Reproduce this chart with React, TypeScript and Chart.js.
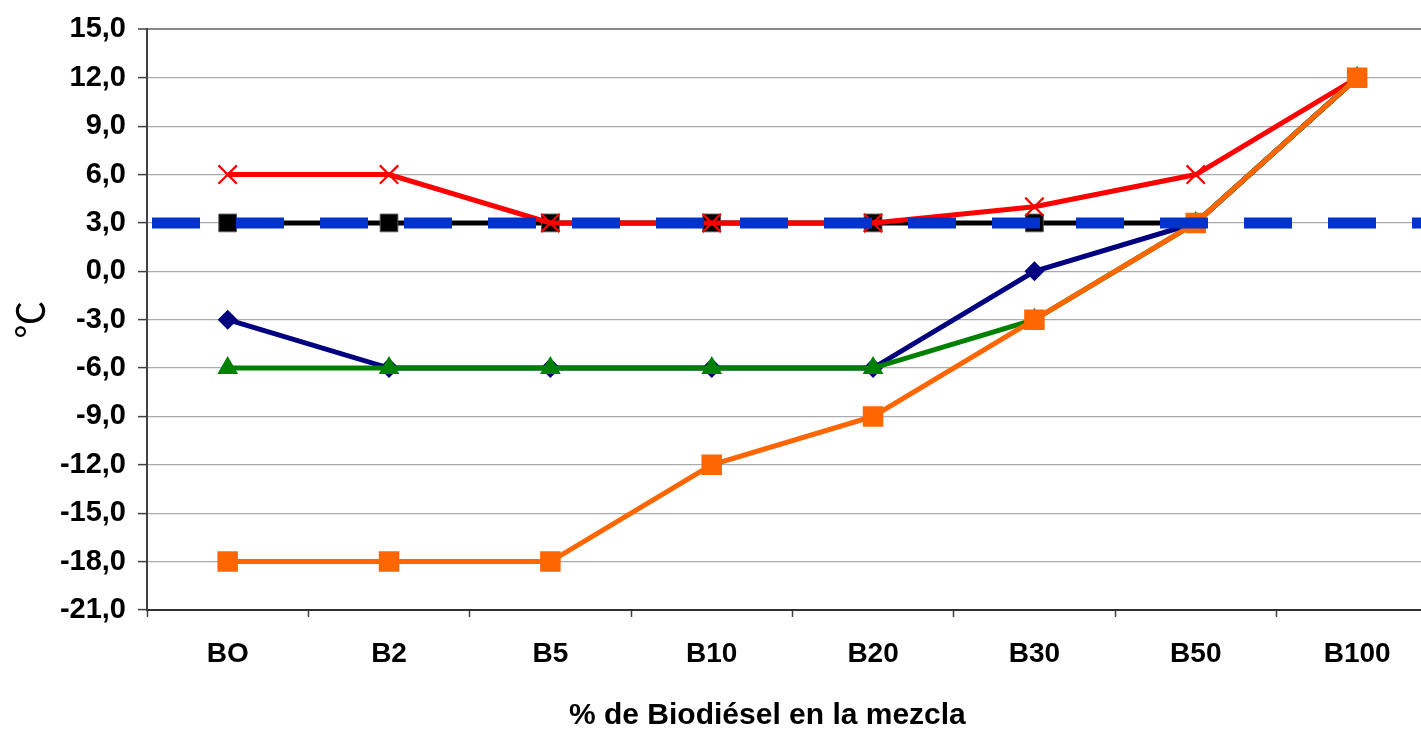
import React, { useEffect, useRef } from 'react';
import { Chart, registerables } from 'chart.js';

Chart.register(...registerables);

// ---- data ----
const categories = ['BO', 'B2', 'B5', 'B10', 'B20', 'B30', 'B50', 'B100'];
const blackSeries = [3, 3, 3, 3, 3, 3, 3, 12];
const redSeries = [6, 6, 3, 3, 3, 4, 6, 12];
const navySeries = [-3, -6, -6, -6, -6, 0, 3, 12];
const greenSeries = [-6, -6, -6, -6, -6, -3, 3, 12];
const orangeSeries = [-18, -18, -18, -12, -9, -3, 3, 12];
const referenceX = [0, 1];
const referenceY = [3, 3];
const yMin = -21;
const yMax = 15;
const yStep = 3;
const xTitle = '% de Biodiésel en la mezcla';
const yTitle = '℃';

const FONT = 'Liberation Sans, Arial, Helvetica, sans-serif';

export default function App() {
  const ref = useRef<HTMLCanvasElement | null>(null);

  useEffect(() => {
    if (!ref.current) return;
    const chart = new Chart(ref.current, {
      type: 'line',
      data: {
        labels: categories,
        datasets: [
          {
            label: 'ref',
            data: referenceX.map((x, i) => ({ x, y: referenceY[i] })),
            xAxisID: 'x2',
            borderColor: '#0033cc',
            borderWidth: 11,
            borderDash: [48, 36],
            borderDashOffset: 79,
            borderCapStyle: 'butt',
            pointRadius: 0,
            fill: false,
            order: 0,
          },
          {
            label: 'orange',
            data: orangeSeries,
            borderColor: '#ff6600',
            borderWidth: 5,
            pointStyle: 'rect',
            pointRadius: 14.5,
            pointBackgroundColor: '#ff6600',
            pointBorderColor: '#ff6600',
            pointBorderWidth: 0,
            order: 1,
          },
          {
            label: 'green',
            data: greenSeries,
            borderColor: '#008000',
            borderWidth: 5,
            pointStyle: 'triangle',
            pointRadius: 12,
            pointBackgroundColor: '#008000',
            pointBorderColor: '#008000',
            pointBorderWidth: 0,
            order: 2,
          },
          {
            label: 'navy',
            data: navySeries,
            borderColor: '#000080',
            borderWidth: 5,
            pointStyle: 'rectRot',
            pointRadius: 10,
            pointBackgroundColor: '#000080',
            pointBorderColor: '#000080',
            pointBorderWidth: 0,
            order: 3,
          },
          {
            label: 'red',
            data: redSeries,
            borderColor: '#ff0000',
            borderWidth: 5,
            pointStyle: 'crossRot',
            pointRadius: 13,
            pointBackgroundColor: '#ff0000',
            pointBorderColor: '#ff0000',
            pointBorderWidth: 2.2,
            order: 4,
          },
          {
            label: 'black',
            data: blackSeries,
            borderColor: '#000000',
            borderWidth: 5,
            pointStyle: 'rect',
            pointRadius: 12.5,
            pointBackgroundColor: '#000000',
            pointBorderColor: '#555555',
            pointBorderWidth: 1,
            order: 5,
          },
        ],
      },
      options: {
        responsive: false,
        animation: false,
        devicePixelRatio: 1,
        layout: { padding: { top: 27, right: 2, bottom: 0, left: 0 } },
        plugins: {
          legend: { display: false },
          tooltip: { enabled: false },
          title: { display: false },
        },
        elements: { line: { tension: 0 } },
        scales: {
          x: {
            type: 'category',
            offset: true,
            afterFit: (s: any) => {
              s.height = 130;
            },
            grid: {
              offset: true,
              drawOnChartArea: false,
              drawTicks: true,
              tickLength: 7,
              tickColor: '#404040',
              tickWidth: 1.5,
            },
            border: { display: true, color: '#303030', width: 2 },
            ticks: {
              color: '#000',
              font: { family: FONT, size: 28, weight: 'bold' },
              padding: 20,
              maxRotation: 0,
              autoSkip: false,
            },
            title: {
              display: true,
              text: xTitle + '      ',
              color: '#000',
              font: { family: FONT, size: 30, weight: 'bold' },
              padding: { top: 0, bottom: 6 },
            },
          },
          x2: {
            type: 'linear',
            display: false,
            min: 0,
            max: 1,
          },
          y: {
            type: 'linear',
            min: yMin,
            max: yMax,
            afterFit: (s: any) => {
              s.width = 147;
            },
            grid: {
              color: (ctx: any) => (ctx.tick && ctx.tick.value === yMax ? '#888888' : '#ababab'),
              lineWidth: (ctx: any) => (ctx.tick && ctx.tick.value === yMax ? 2 : 1.2),
              drawTicks: true,
              tickLength: 9,
              tickColor: '#404040',
              tickWidth: 1.5,
            },
            border: { display: true, color: '#404040', width: 2 },
            ticks: {
              stepSize: yStep,
              color: '#000',
              font: { family: FONT, size: 29, weight: 'bold' },
              padding: 12,
              callback: (v: any) => Number(v).toFixed(1).replace('.', ','),
            },
            title: {
              display: true,
              text: yTitle,
              color: '#000',
              font: { family: 'Noto Sans CJK JP, Noto Sans CJK SC, DejaVu Sans, sans-serif', size: 38, weight: 'normal' },
              padding: { top: 7, bottom: 0 },
            },
          },
        },
      },
    } as any);
    return () => chart.destroy();
  }, []);

  return (
    <div
      style={{
        position: 'fixed',
        left: 0,
        top: 0,
        width: 1421,
        height: 730,
        overflow: 'hidden',
        background: '#fff',
      }}
    >
      <canvas ref={ref} width={1453} height={740} style={{ display: 'block' }} />
    </div>
  );
}
